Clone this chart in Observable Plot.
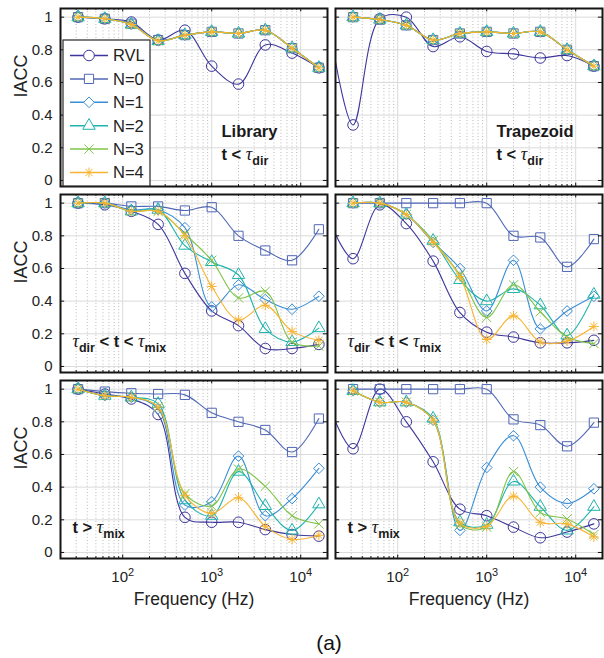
<!DOCTYPE html>
<html><head><meta charset="utf-8">
<script src="https://cdn.jsdelivr.net/npm/d3@7"></script>
<script src="https://cdn.jsdelivr.net/npm/@observablehq/plot@0.6"></script>
<style>
body{margin:0;background:#fff;font-family:"Liberation Sans",Arial,sans-serif;}
#wrap{position:relative;width:604px;height:658px;overflow:hidden;}
#cap{position:absolute;left:0;width:658px;top:631px;text-align:center;font-size:21px;color:#111;}
svg text{white-space:pre;}
</style></head><body>
<div id="wrap"><div id="chart"></div><div id="cap">(a)</div></div>
<script>
// ---------- data ----------
const freqs = [31.5, 63, 125, 250, 500, 1000, 2000, 4000, 8000, 16000];
const seriesNames = ["RVL", "N=0", "N=1", "N=2", "N=3", "N=4"];
const rooms = ["Library", "Trapezoid"];
const windows = ["early", "mid", "late"];
const windowLabels = ["t < τ_dir", "τ_dir < t < τ_mix", "t > τ_mix"];
const yTicks = [0, 0.2, 0.4, 0.6, 0.8, 1];
const xMajorTicks = [100, 1000, 10000];
const xMinorTicks = [20,30,40,50,60,70,80,90,200,300,400,500,600,700,800,900,2000,3000,4000,5000,6000,7000,8000,9000,20000];

// rows: RVL, N=0, N=1, N=2, N=3, N=4
const libEarly = [
  [1.00, 0.99, 0.97, 0.86, 0.92, 0.70, 0.59, 0.83, 0.78, 0.69],
  [1.00, 0.99, 0.96, 0.86, 0.89, 0.91, 0.90, 0.92, 0.81, 0.69],
  [1.00, 0.99, 0.955, 0.855, 0.89, 0.91, 0.90, 0.92, 0.81, 0.69],
  [1.00, 0.99, 0.955, 0.855, 0.89, 0.91, 0.90, 0.92, 0.81, 0.69],
  [1.00, 0.99, 0.955, 0.855, 0.89, 0.91, 0.90, 0.92, 0.81, 0.69],
  [1.00, 0.99, 0.955, 0.855, 0.89, 0.91, 0.90, 0.92, 0.81, 0.69]
];
const trapEarly = [
  [0.34, 0.99, 1.00, 0.82, 0.88, 0.79, 0.775, 0.75, 0.765, 0.70],
  [1.00, 0.985, 0.95, 0.86, 0.90, 0.91, 0.90, 0.91, 0.80, 0.70],
  [1.00, 0.985, 0.95, 0.86, 0.90, 0.91, 0.90, 0.91, 0.80, 0.70],
  [1.00, 0.985, 0.95, 0.86, 0.90, 0.91, 0.90, 0.91, 0.80, 0.70],
  [1.00, 0.985, 0.95, 0.86, 0.90, 0.91, 0.90, 0.91, 0.80, 0.70],
  [1.00, 0.985, 0.95, 0.86, 0.90, 0.91, 0.90, 0.91, 0.80, 0.70]
];
const libMid = [
  [1.00, 0.99, 0.95, 0.87, 0.57, 0.34, 0.25, 0.11, 0.11, 0.135],
  [1.00, 1.00, 0.98, 0.98, 0.955, 0.975, 0.80, 0.71, 0.65, 0.84],
  [1.00, 1.00, 0.96, 0.96, 0.85, 0.365, 0.50, 0.41, 0.35, 0.43],
  [1.00, 1.00, 0.95, 0.96, 0.74, 0.64, 0.56, 0.23, 0.15, 0.235],
  [1.00, 1.00, 0.95, 0.95, 0.81, 0.65, 0.42, 0.46, 0.15, 0.125],
  [1.00, 1.00, 0.95, 0.95, 0.80, 0.49, 0.285, 0.375, 0.215, 0.16]
];
const trapMid = [
  [0.66, 0.99, 0.875, 0.645, 0.33, 0.21, 0.18, 0.145, 0.145, 0.16],
  [1.00, 1.00, 1.00, 1.00, 1.00, 1.00, 0.80, 0.79, 0.61, 0.78],
  [1.00, 1.00, 0.93, 0.76, 0.60, 0.34, 0.65, 0.23, 0.34, 0.43],
  [1.00, 1.00, 0.93, 0.77, 0.53, 0.40, 0.475, 0.375, 0.19, 0.44],
  [1.00, 1.00, 0.93, 0.77, 0.56, 0.30, 0.50, 0.335, 0.18, 0.14],
  [1.00, 1.00, 0.93, 0.76, 0.55, 0.165, 0.31, 0.15, 0.155, 0.245]
];
const libLate = [
  [1.00, 0.97, 0.94, 0.845, 0.215, 0.185, 0.185, 0.14, 0.11, 0.10],
  [1.00, 0.985, 0.975, 0.97, 0.965, 0.855, 0.80, 0.75, 0.615, 0.82],
  [1.00, 0.96, 0.95, 0.88, 0.29, 0.31, 0.59, 0.225, 0.33, 0.515],
  [1.00, 0.96, 0.95, 0.91, 0.32, 0.225, 0.495, 0.285, 0.135, 0.295],
  [1.00, 0.96, 0.95, 0.89, 0.36, 0.285, 0.51, 0.405, 0.225, 0.175],
  [1.00, 0.96, 0.95, 0.89, 0.35, 0.24, 0.335, 0.16, 0.08, 0.105]
];
const trapLate = [
  [0.635, 1.00, 0.80, 0.555, 0.265, 0.225, 0.155, 0.09, 0.125, 0.175],
  [1.00, 1.00, 1.00, 1.00, 1.00, 1.00, 0.815, 0.78, 0.65, 0.795],
  [0.99, 0.92, 0.92, 0.81, 0.135, 0.52, 0.715, 0.40, 0.30, 0.39],
  [0.99, 0.92, 0.92, 0.82, 0.185, 0.17, 0.435, 0.28, 0.135, 0.28],
  [0.99, 0.92, 0.92, 0.81, 0.17, 0.155, 0.495, 0.245, 0.205, 0.11],
  [0.99, 0.92, 0.92, 0.81, 0.18, 0.16, 0.345, 0.185, 0.175, 0.095]
];
// RVL curve value read where it meets the left frame edge (20 Hz) in the Trapezoid panels
const trapRvlAtLeftEdge = [0.73, 0.81, 0.80];
const xDomain = [20, 20000];

// ---------- styles ----------
const seriesColors = ["#3d379b", "#5067b6", "#3a8ed6", "#1fb3ad", "#7fc449", "#f8b431"];
const seriesSymbols = [[["circle", 5.3]], [["square", 5.2]], [["diamond2", 4.8]], [["triangle", 4.6]], [["times", 4.3]], [["plus", 3.3], ["times", 3.4]]];

// ---------- table ----------
const panelArrays = {Library: [libEarly, libMid, libLate], Trapezoid: [trapEarly, trapMid, trapLate]};
const rows = [];
rooms.forEach(room => windows.forEach((win, w) => seriesNames.forEach((s, i) => freqs.forEach((f, j) => {
  rows.push({room, win, series: s, f, v: panelArrays[room][w][i][j]});
}))));
const lineRows = rows.slice();
windows.forEach((win, w) => lineRows.push({room: "Trapezoid", win, series: "RVL", f: xDomain[0], v: trapRvlAtLeftEdge[w]}));
lineRows.sort((a, b) => a.f - b.f);

// ---------- layout ----------
const W = 604, H = 620, mL = 60, mR = 2, mT = 7, mB = 61;
const padX = 0.03, padY = 0.043;
const bwX = (W - mL - mR) * (1 - padX) / (2 - padX);
const bwY = (H - mT - mB) * (1 - padY) / (3 - padY);

const marks = [
  Plot.frame({fill: "white"}),
  Plot.gridX(xMinorTicks, {stroke: "#b8b8b8", strokeOpacity: 1, strokeDasharray: "1,2.2"}),
  Plot.gridX(xMajorTicks, {stroke: "#dadada", strokeOpacity: 1}),
  Plot.gridY(yTicks, {stroke: "#dadada", strokeOpacity: 1})
];
seriesNames.forEach((name, i) => {
  marks.push(Plot.line(lineRows.filter(d => d.series === name), {
    x: "f", y: "v", fx: "room", fy: "win", stroke: seriesColors[i], strokeWidth: 1.1, curve: "catmull-rom", clip: true
  }));
  seriesSymbols[i].forEach(([sym, r]) => {
    marks.push(Plot.dot(rows.filter(d => d.series === name), {
      x: "f", y: "v", fx: "room", fy: "win", symbol: sym, r, stroke: seriesColors[i], fill: "none", strokeWidth: 1
    }));
  });
});
marks.push(
  Plot.tickY(yTicks, {y: d => d, insetRight: bwX - 4, stroke: "#111"}),
  Plot.tickY(yTicks, {y: d => d, insetLeft: bwX - 4, stroke: "#111"}),
  Plot.tickX(xMajorTicks, {x: d => d, insetTop: bwY - 4, stroke: "#111"}),
  Plot.tickX(xMajorTicks, {x: d => d, insetBottom: bwY - 4, stroke: "#111"}),
  Plot.tickX(xMinorTicks, {x: d => d, insetTop: bwY - 2.5, stroke: "#111"}),
  Plot.tickX(xMinorTicks, {x: d => d, insetBottom: bwY - 2.5, stroke: "#111"}),
  Plot.frame({stroke: "#151515", strokeWidth: 2}),
  // room names (top row)
  Plot.text(rooms, {fx: d => d, fy: () => "early", text: d => d, frameAnchor: "bottom-left", textAnchor: "start",
    dx: 161, dy: -50, fontWeight: "bold", fontSize: 16.5, fill: "#1a1a1a"}),
  Plot.text(rooms, {fx: d => d, fy: () => "early", text: () => windowLabels[0], frameAnchor: "bottom-left", textAnchor: "start",
    dx: 161, dy: -27, fontWeight: "bold", fontSize: 16.5, fill: "#1a1a1a"}),
  Plot.text(rooms.flatMap(r => [[r, 1], [r, 2]]), {fx: d => d[0], fy: d => windows[d[1]], text: d => windowLabels[d[1]],
    frameAnchor: "bottom-left", textAnchor: "start", dx: 12, dy: -26, fontWeight: "bold", fontSize: 16.5, fill: "#1a1a1a"}),
  // axis labels
  Plot.text(windows, {fy: d => d, fx: () => "Library", text: () => "IACC", frameAnchor: "left", rotate: -90, dx: -39, fontSize: 18, fill: "#222"}),
  Plot.text(rooms, {fx: d => d, fy: () => "late", text: () => "Frequency (Hz)", frameAnchor: "bottom", dy: 46, fontSize: 17.5, fill: "#222"}),
  Plot.axisY(yTicks, {anchor: "left", tickSize: 0, tickPadding: 8, tickFormat: d => String(d), fontSize: 15, label: null, fill: "#222"}),
  Plot.axisX(xMajorTicks, {anchor: "bottom", tickSize: 0, tickPadding: 13, tickFormat: d => "10^" + Math.round(Math.log10(d)), fontSize: 15, label: null, fill: "#222"})
);

const plot = Plot.plot({
  width: W, height: H, marginLeft: mL, marginRight: mR, marginTop: mT, marginBottom: mB,
  style: {fontFamily: "'Liberation Sans', Arial, sans-serif", fontSize: "15px", background: "white", overflow: "visible"},
  x: {type: "log", domain: xDomain},
  y: {domain: [-0.037, 1.053]},
  fx: {domain: rooms, padding: padX, axis: null, label: null},
  fy: {domain: windows, padding: padY, axis: null, label: null},
  marks
});
document.getElementById("chart").appendChild(plot);
const svg = plot.tagName.toLowerCase() === "svg" ? plot : plot.querySelector("svg");
const ns = "http://www.w3.org/2000/svg";

function addTs(t, txt, attrs) {
  const ts = document.createElementNS(ns, "tspan");
  ts.textContent = txt;
  for (const k in attrs) ts.setAttribute(k, attrs[k]);
  t.appendChild(ts);
  return ts;
}
function richify(t, s) {
  t.textContent = "";
  let shifted = 0;
  s.split(" ").forEach((p, i) => {
    const pre = i > 0 ? " " : "";
    const back = shifted ? {dy: -shifted} : {};
    if (p.startsWith("τ_")) {
      addTs(t, pre, back);
      addTs(t, "τ", {"font-style": "italic", "font-weight": "normal", "font-family": "'Liberation Serif', 'DejaVu Serif', serif", "font-size": 18});
      addTs(t, p.slice(2), {dy: 5, "font-size": 12.5});
      shifted = 5;
    } else {
      addTs(t, pre + p, back);
      shifted = 0;
    }
  });
}
svg.querySelectorAll("text").forEach(t => {
  const s = t.textContent;
  if (s.includes("^")) {
    const [b, e] = s.split("^");
    t.textContent = "";
    addTs(t, b, {});
    addTs(t, e, {dy: -6, "font-size": 11});
  } else if (s.includes("τ_")) {
    richify(t, s);
  }
});

// ---------- legend (top-left panel) ----------
const px0 = plot.scale("fx").apply("Library");
const py0 = plot.scale("fy").apply("early");
const symMap = {circle: d3.symbolCircle, square: d3.symbolSquare, diamond2: d3.symbolDiamond2, triangle: d3.symbolTriangle, times: d3.symbolTimes, plus: d3.symbolPlus};
const lg = d3.select(svg).append("g").attr("text-anchor", "start");
lg.append("rect").attr("x", px0 + 3).attr("y", py0 + 32).attr("width", 87).attr("height", 146)
  .attr("fill", "white").attr("stroke", "#262626").attr("stroke-width", 1.2);
seriesNames.forEach((name, i) => {
  const yy = py0 + 47.5 + i * 23.4;
  lg.append("line").attr("x1", px0 + 10).attr("x2", px0 + 48).attr("y1", yy).attr("y2", yy)
    .attr("stroke", seriesColors[i]).attr("stroke-width", 1.5);
  seriesSymbols[i].forEach(([sym, r]) => {
    lg.append("path").attr("d", d3.symbol(symMap[sym], r * r * Math.PI)())
      .attr("transform", `translate(${px0 + 29},${yy})`)
      .attr("fill", "white").attr("stroke", seriesColors[i]).attr("stroke-width", 1);
  });
  lg.append("text").attr("x", px0 + 53).attr("y", yy).attr("dy", "0.36em").attr("text-anchor", "start")
    .attr("font-size", 16.5).attr("fill", "#222").text(name);
});
</script>
</body></html>
